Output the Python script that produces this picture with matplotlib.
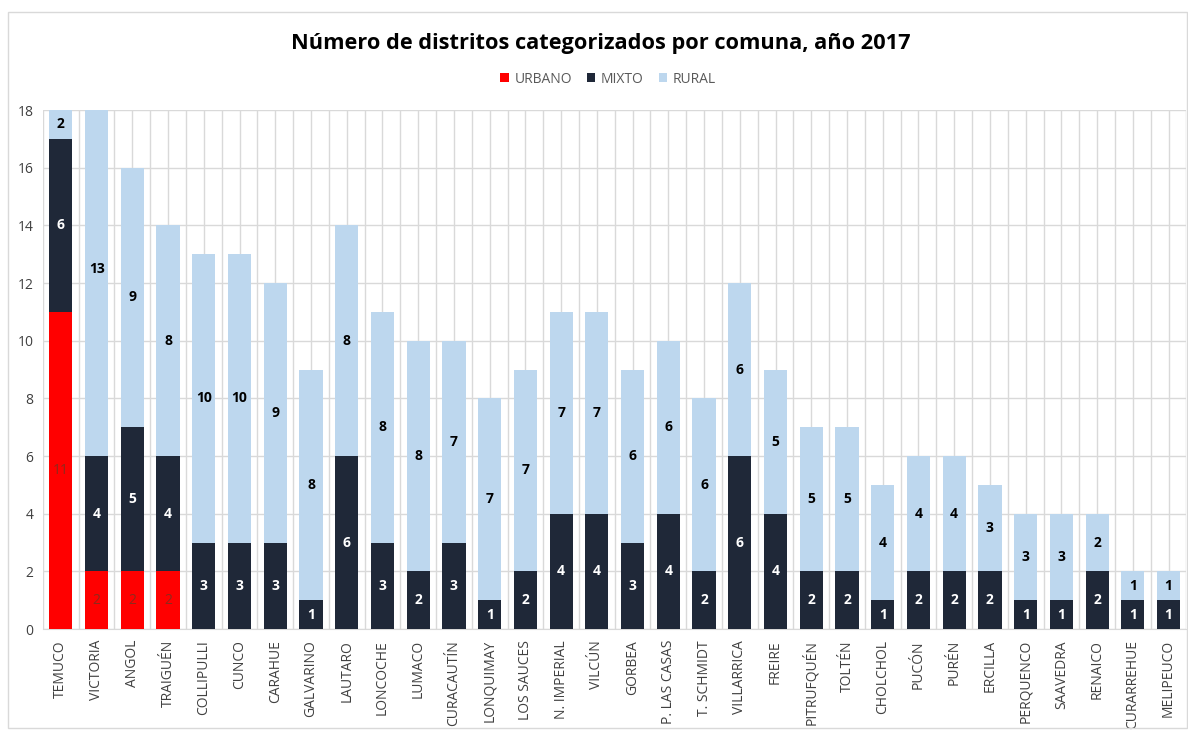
import matplotlib.pyplot as plt
import numpy as np
from matplotlib.patches import Rectangle

comunas = ['TEMUCO', 'VICTORIA', 'ANGOL', 'TRAIGUÉN', 'COLLIPULLI', 'CUNCO', 'CARAHUE',
           'GALVARINO', 'LAUTARO', 'LONCOCHE', 'LUMACO', 'CURACAUTÍN', 'LONQUIMAY',
           'LOS SAUCES', 'N. IMPERIAL', 'VILCÚN', 'GORBEA', 'P. LAS CASAS', 'T. SCHMIDT',
           'VILLARRICA', 'FREIRE', 'PITRUFQUÉN', 'TOLTÉN', 'CHOLCHOL', 'PUCÓN', 'PURÉN',
           'ERCILLA', 'PERQUENCO', 'SAAVEDRA', 'RENAICO', 'CURARREHUE', 'MELIPEUCO']
urbano = [11, 2, 2, 2, 0, 0, 0, 0, 0, 0, 0, 0, 0, 0, 0, 0,
          0, 0, 0, 0, 0, 0, 0, 0, 0, 0, 0, 0, 0, 0, 0, 0]
mixto = [6, 4, 5, 4, 3, 3, 3, 1, 6, 3, 2, 3, 1, 2, 4, 4,
         3, 4, 2, 6, 4, 2, 2, 1, 2, 2, 2, 1, 1, 2, 1, 1]
rural = [2, 13, 9, 8, 10, 10, 9, 8, 8, 8, 8, 7, 7, 7, 7, 7,
         6, 6, 6, 6, 5, 5, 5, 4, 4, 4, 3, 3, 3, 2, 1, 1]

series = ['URBANO', 'MIXTO', 'RURAL']
colores = ['#FF0000', '#1F2838', '#BDD7EE']
col_etiqueta = ['#8E2A1C', 'white', 'black']
ymax = 18

plt.rcParams['font.family'] = ['Open Sans', 'DejaVu Sans']

fig = plt.figure(figsize=(11.88, 7.32), dpi=100)
ax = fig.add_axes([0.0362, 0.1407, 0.9625, 0.709])

x = np.arange(len(comunas))
base = np.zeros(len(comunas))
for nombre, vals, c, ce in zip(series, [urbano, mixto, rural], colores, col_etiqueta):
    vals = np.array(vals, dtype=float)
    ax.bar(x, vals, 0.65, bottom=base, color=c, label=nombre, zorder=3)
    for i, v in enumerate(vals):
        if v > 0:
            yc = min(base[i] + v / 2, ymax - 0.5)
            ax.text(x[i], yc, str(int(v)), ha='center', va='center', color=ce,
                    fontsize=10, fontweight='normal' if nombre == 'URBANO' else 'bold', zorder=4)
    base += vals

ax.set_xlim(-0.5, len(comunas) - 0.5)
ax.set_ylim(0, ymax)
ax.set_yticks(np.arange(0, ymax + 1, 2))
ax.set_xticks(x)
ax.set_xticklabels(comunas, rotation=90, fontsize=10, color='#404040')
ax.set_xticks(np.arange(-0.5, len(comunas), 1.0), minor=True)
ax.tick_params(axis='y', labelsize=10, labelcolor='#404040', length=0, pad=7)
ax.tick_params(axis='x', which='both', length=0, pad=8)
ax.grid(axis='y', color='#D9D9D9', linewidth=1, zorder=0)
ax.grid(axis='x', which='both', color='#D9D9D9', linewidth=1, zorder=0)
for s in ['top', 'right', 'left']:
    ax.spines[s].set_visible(False)
ax.spines['bottom'].set_color('#D9D9D9')

fig.text(0.506, 0.94, 'Número de distritos categorizados por comuna, año 2017',
         ha='center', va='center', fontsize=15.7, fontweight='bold', color='black')
fig.legend(loc='center', bbox_to_anchor=(0.512, 0.892), ncol=3, frameon=False,
           fontsize=10, handlelength=0.6, handleheight=0.6, handletextpad=0.4,
           columnspacing=1.1, labelcolor='#595959')

fig.patches.append(Rectangle((0.007, 0.006), 0.992, 0.978, transform=fig.transFigure,
                             fill=False, edgecolor='#D9D9D9', linewidth=1))

fig.savefig('out.png', dpi=100)
